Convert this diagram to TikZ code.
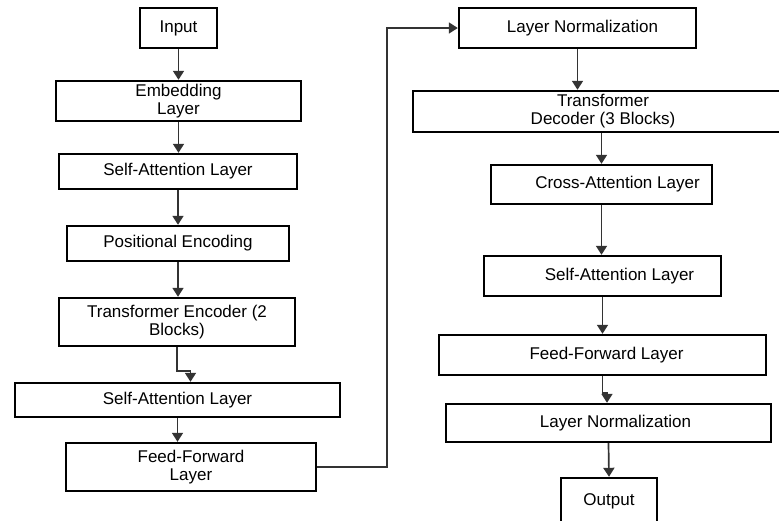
\documentclass[tikz,border=0pt]{standalone}
\usepackage{fontspec}
\setmainfont{Liberation Sans}
\usetikzlibrary{arrows.meta}
\begin{document}
\begin{tikzpicture}[x=1pt,y=-1pt,>={Triangle[width=11pt,length=9pt]}]
        \tikzstyle{block}=[draw=black,line width=2.4pt,fill=white,inner sep=0pt,align=center,font=\fontsize{17}{18}\selectfont]
        \tikzstyle{edge}=[draw,->,line width=1.7pt,black!80]
        \clip (0,0) rectangle (779,520);
        \fill[white] (0,0) rectangle (779,520);
       \begin{scope}
         \node [block,minimum width=77pt,minimum height=40pt] (input) at (178.5,28) {Input};
         \node [block,minimum width=245pt,minimum height=40pt] (embed) at (178.5,101) {Embedding\\Layer};
         \node [block,minimum width=238pt,minimum height=35pt] (sa1) at (178,171.5) {Self-Attention Layer};
         \node [block,minimum width=222pt,minimum height=35pt] (pe) at (178,243.5) {Positional Encoding};
         \node [block,minimum width=236pt,minimum height=48pt] (te) at (177,322) {Transformer Encoder (2\\Blocks)};
         \node [block,minimum width=325pt,minimum height=34pt] (sa2) at (177.5,400) {Self-Attention Layer};
         \node [block,minimum width=250pt,minimum height=48pt] (ff1) at (191,467) {Feed-Forward\\Layer};
         \node [block,minimum width=237pt,minimum height=40pt] (ln1) at (577.5,28) {\hspace*{10pt}Layer Normalization};
         \node [block,minimum width=380pt,minimum height=41pt] (td) at (603,111.5) {Transformer\\Decoder (3 Blocks)};
         \node [block,minimum width=221pt,minimum height=39pt] (ca) at (601.5,184.5) {\hspace*{32pt}Cross-Attention Layer};
         \node [block,minimum width=237pt,minimum height=40pt] (sa3) at (602.5,276) {\hspace*{34pt}Self-Attention Layer};
         \node [block,minimum width=327pt,minimum height=40pt] (ff2) at (602.5,355) {\hspace*{8pt}Feed-Forward Layer};
         \node [block,minimum width=325pt,minimum height=38pt] (ln2) at (608.5,423) {\hspace*{14pt}Layer Normalization};
         \node [block,minimum width=96pt,minimum height=46pt] (out) at (609,501) {Output};
         \path[edge] (input.south) -- (input.south |- embed.north);
         \path[edge] (embed.south) -- (embed.south |- sa1.north);
         \path[edge] (sa1.south) -- (sa1.south |- pe.north);
         \path[edge] (pe.south) -- (pe.south |- te.north);
         \path[edge] (te.south) -- ++(0,24) -| ([xshift=13pt]sa2.north);
         \path[edge] (sa2.south) -- (sa2.south |- ff1.north);
         \path[edge] (ff1.east) -- ++(70,0) |- (ln1.west);
         \path[edge] (ln1.south) -- (ln1.south |- td.north);
         \path[edge] (ca.north |- td.south) -- (ca.north);
         \path[edge] (ca.south) -- (ca.south |- sa3.north);
         \path[edge] (sa3.south) -- (sa3.south |- ff2.north);
         \path[edge] (ff2.south) -- ++(0,17) -| ([xshift=-1.5pt]ln2.north);
         \path[edge] (ln2.south) -- (out.north);
        \end{scope}
      \end{tikzpicture}
\end{document}
